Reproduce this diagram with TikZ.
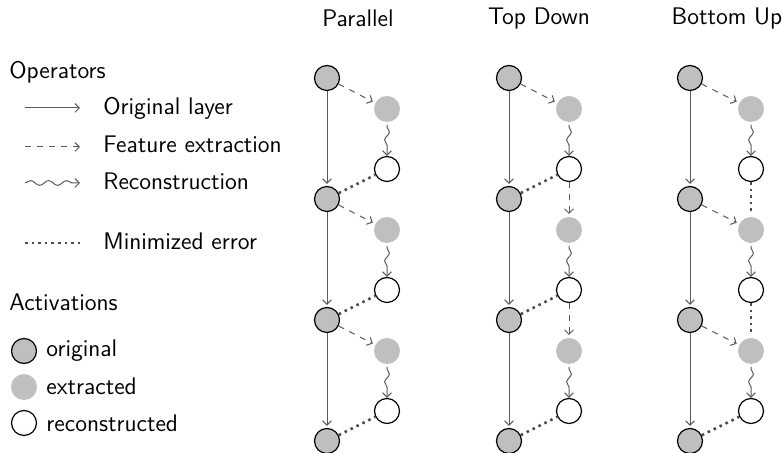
\documentclass[tikz,border=0pt]{standalone}
\usetikzlibrary{decorations.pathmorphing,arrows.meta}
\begin{document}
\begin{tikzpicture}[x=0.5pt,y=-0.5pt,
  font=\sffamily\fontsize{12}{14}\selectfont,
  >={Straight Barb[length=2.2pt,width=4.4pt]},
  txt/.style={inner sep=0pt, anchor=base west},
  ttl/.style={inner sep=0pt, anchor=base},
  orig/.style={circle, draw=black, semithick, fill=black!25, minimum size=12.5pt, inner sep=0pt},
  extr/.style={circle, fill=black!25, minimum size=13pt, inner sep=0pt, outer sep=1.5pt},
  reco/.style={circle, draw=black, semithick, fill=white, minimum size=12.5pt, inner sep=0pt},
  lay/.style={->, black!65, line width=0.5pt, shorten >=1pt},
  feat/.style={->, dashed, black!65, line width=0.5pt},
  rec/.style={->, black!65, line width=0.5pt, decorate, decoration={snake, amplitude=1.2pt, segment length=8pt, pre length=1pt, post length=3pt}},
  err/.style={black!70, line width=1.3pt, dotted}]
\useasboundingbox (0,0) rectangle (783,453);

% titles
\node[ttl] (tP) at (358,27) {Parallel};
\node[ttl] (tT) at (539,25) {Top Down};
\node[ttl] (tB) at (727,25) {Bottom Up};

% legend
\node[txt] (lop) at (9,79) {Operators};
\coordinate (a1) at (25,108); \coordinate (b1) at (80,108);
\coordinate (a2) at (25,147); \coordinate (b2) at (80,147);
\coordinate (a3) at (25,183); \coordinate (b3) at (80,183);
\coordinate (a4) at (25,243); \coordinate (b4) at (82,243);
\draw[lay, shorten >=0pt] (a1) -- (b1);
\draw[feat] (a2) -- (b2);
\draw[rec, decoration={segment length=9pt, amplitude=1.2pt, pre length=0pt, post length=2pt}] (a3) -- (b3);
\draw[err, line width=1pt] (a4) -- (b4);
\node[txt] (l1) at (103,115) {Original layer};
\node[txt] (l2) at (103,153) {Feature extraction};
\node[txt] (l3) at (103,190) {Reconstruction};
\node[txt] (l4) at (103,250) {Minimized error};

\node[txt] (lact) at (9,311) {Activations};
\node[orig] (co) at (24,351) {};
\node[extr, outer sep=0pt] (ce) at (24,387) {};
\node[reco] (cr) at (24,423) {};
\node[txt] (lo) at (46,357) {original};
\node[txt] (le) at (46,395) {extracted};
\node[txt] (lr) at (46,432) {reconstructed};

% columns
\foreach \c/\ox/\ex in {P/327/387, T/509/569, B/690/751}{
  \foreach \k/\y in {1/78, 2/199, 3/320}{
    \node[orig] (\c o\k) at (\ox,\y) {};
    \node[extr] (\c e\k) at (\ex,\y+31) {};
    \node[reco] (\c r\k) at (\ex,\y+91) {};
  }
  \node[orig] (\c o4) at (\ox,441) {};
  \foreach \k/\n in {1/2, 2/3, 3/4}{
    \draw[lay] (\c o\k) -- (\c o\n);
  }
  \foreach \k in {1,2,3}{
    \draw[rec] (\c e\k) -- (\c r\k);
  }
}

% Parallel
\foreach \k/\n in {1/2, 2/3, 3/4}{
  \draw[feat] (Po\k) -- (Pe\k);
  \draw[err] (Po\n) -- (Pr\k);
}
% Top Down
\draw[feat] (To1) -- (Te1);
\draw[feat] (Tr1) -- (Te2);
\draw[feat] (Tr2) -- (Te3);
\foreach \k/\n in {1/2, 2/3, 3/4}{
  \draw[err] (To\n) -- (Tr\k);
}
% Bottom Up
\foreach \k in {1,2,3}{
  \draw[feat] (Bo\k) -- (Be\k);
}
\draw[err] (Br1) -- (Be2);
\draw[err] (Br2) -- (Be3);
\draw[err] (Bo4) -- (Br3);
\end{tikzpicture}
\end{document}
